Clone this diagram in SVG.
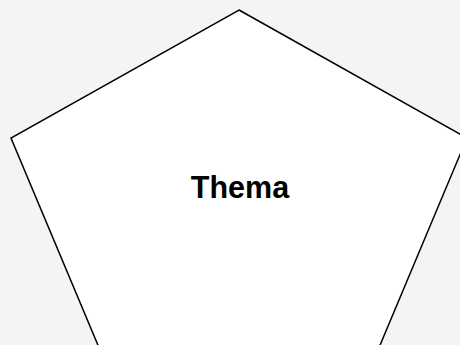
<svg xmlns="http://www.w3.org/2000/svg" width="460" height="345" viewBox="0 0 460 345">
<style>
.shape{fill:#ffffff;stroke:#000000;stroke-width:1.5;stroke-linejoin:miter}
.label{font-family:"Liberation Sans",Arial,sans-serif;font-weight:bold;font-size:30.5px;fill:#000000}
</style>
<rect x="0" y="0" width="460" height="345" fill="#f4f4f2"/>
<g id="thema">
<polygon class="shape" points="239,10 467,138 378,350 100,350 11,138"/>
<text class="label" x="240" y="198" text-anchor="middle">Thema</text>
</g>
<g id="connectors"></g>
</svg>
